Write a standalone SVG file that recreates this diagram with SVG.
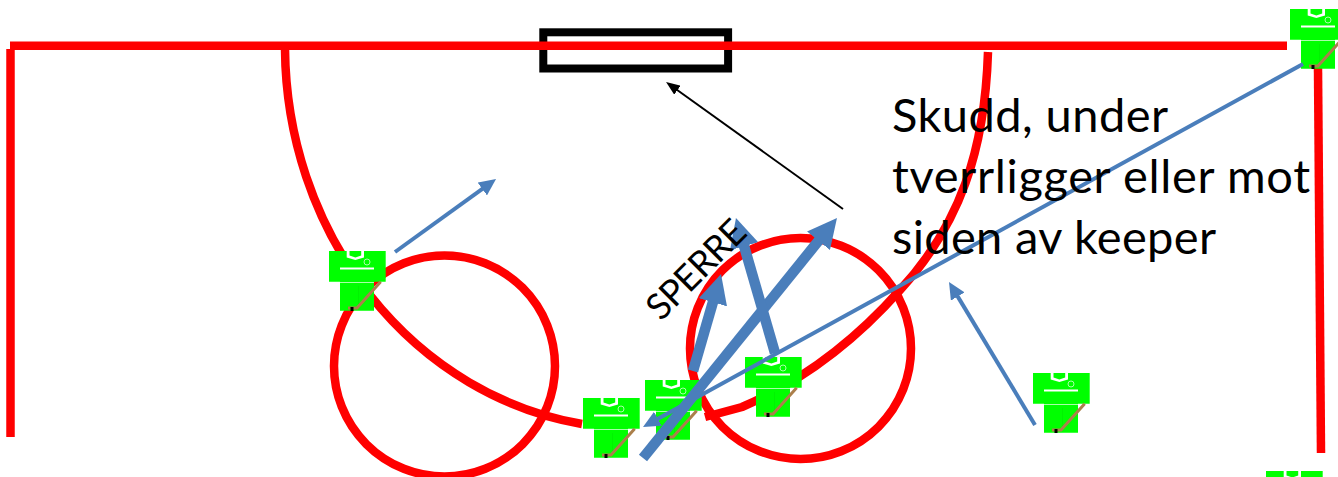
<svg xmlns="http://www.w3.org/2000/svg" xmlns:xlink="http://www.w3.org/1999/xlink" width="1338" height="477" viewBox="0 0 1338 477">
<style>
.red{fill:none;stroke:#ff0000;stroke-width:8.5}
.thin{fill:none;stroke:#4a7ebb;stroke-width:4;marker-end:url(#headThin)}
.thick{fill:none;stroke:#4a7ebb;stroke-width:10.5;marker-end:url(#headThick)}
.black{fill:none;stroke:#000;stroke-width:2;marker-end:url(#headBlack)}
.label{font-family:"Lato","Open Sans",sans-serif;fill:#000}
</style>
<defs>
<marker id="headThin" markerUnits="strokeWidth" markerWidth="4.25" markerHeight="4" refX="1" refY="2" orient="auto"><path d="M0,0L4.25,2L0,4z" fill="#4a7ebb"/></marker>
<marker id="headThick" markerUnits="strokeWidth" markerWidth="2.8" markerHeight="2.8" refX=".8" refY="1.4" orient="auto"><path d="M0,0L2.8,1.4L0,2.8z" fill="#4a7ebb"/></marker>
<marker id="headBlack" markerUnits="strokeWidth" markerWidth="7" markerHeight="5.5" refX="1" refY="2.75" orient="auto"><path d="M0,0L7,2.75L0,5.5z" fill="#000"/></marker>
<g id="player">
<path d="M0,0H56.7V30.7H45V59.7H11V30.7H0z" fill="#00ff00"/>
<path d="M17.7,0H35V6.5L26.4,9L17.7,6.5z" fill="#fff"/>
<path d="M20.5,0H32.2V4.5L26.4,6.5L20.5,4.5z" fill="#00ff00"/>
<rect x="11" y="16.5" width="34" height="2" fill="#fff"/>
<rect x="11" y="31" width="34" height="1" fill="#a8ffa8"/>
<circle cx="38" cy="11" r="3" fill="none" stroke="#a8ffa8" stroke-width="1"/>
<path d="M29.5,35V55" fill="none" stroke="#00e000" stroke-width=".4"/>
<path d="M51.7,30.7L28,57H19" fill="none" stroke="#ab7f4b" stroke-width="3"/>
<rect x="21.5" y="56" width="3" height="4" fill="#000"/>
</g>
</defs>
<g id="goal"><rect x="543.3" y="32.3" width="184.8" height="36.2" fill="none" stroke="#000" stroke-width="8"/></g>
<g id="pitch">
<path class="red" d="M10,45.8H1287"/>
<path class="red" d="M10.5,49V437"/>
<path class="red" d="M1318,68L1321,453"/>
<path class="red" d="M285,49A352,383 0 0 0 582,424"/>
<path class="red" d="M988,52C985,150 960,225 900,290C860,335 810,378 742,407L705,417"/>
<circle class="red" cx="444.5" cy="366" r="110.5"/>
<circle class="red" cx="800.5" cy="348.5" r="110.5"/>
</g>
<g id="player-1"><use xlink:href="#player" href="#player" x="329" y="251"/></g>
<g id="player-2"><use xlink:href="#player" href="#player" x="583" y="398"/></g>
<g id="player-3"><use xlink:href="#player" href="#player" x="645" y="380"/></g>
<g id="player-4"><use xlink:href="#player" href="#player" x="745" y="357"/></g>
<g id="player-5"><use xlink:href="#player" href="#player" x="1033" y="373"/></g>
<g id="player-6"><use xlink:href="#player" href="#player" x="1290" y="9"/></g>
<g id="player-7"><use xlink:href="#player" href="#player" x="1266" y="471"/></g>
<g id="connectors">
<path class="thin" d="M395,252L485.5,186.6"/>
<path class="thin" d="M1035,425L955.7,293.1"/>
<path class="thin" d="M1303,64L654.4,420.7"/>
<path class="thick" d="M643,458L823.8,234.3"/>
<path class="thick" d="M693,371L715.2,294.2"/>
<path class="thick" d="M775,353L741.8,238.2"/>
<path class="black" d="M843,209L675.8,89"/>
</g>
<g id="labels">
<text class="label" font-size="47" x="892" y="131.5" textLength="276" lengthAdjust="spacing">Skudd, under</text>
<text class="label" font-size="47" x="892" y="192.5" textLength="418" lengthAdjust="spacing">tverrligger eller mot</text>
<text class="label" font-size="47" x="892" y="253.5" textLength="324" lengthAdjust="spacing">siden av keeper</text>
<text class="label" font-size="36" x="0" y="0" textLength="124" lengthAdjust="spacing" transform="translate(661,322) rotate(-45)">SPERRE</text>
</g>
</svg>
